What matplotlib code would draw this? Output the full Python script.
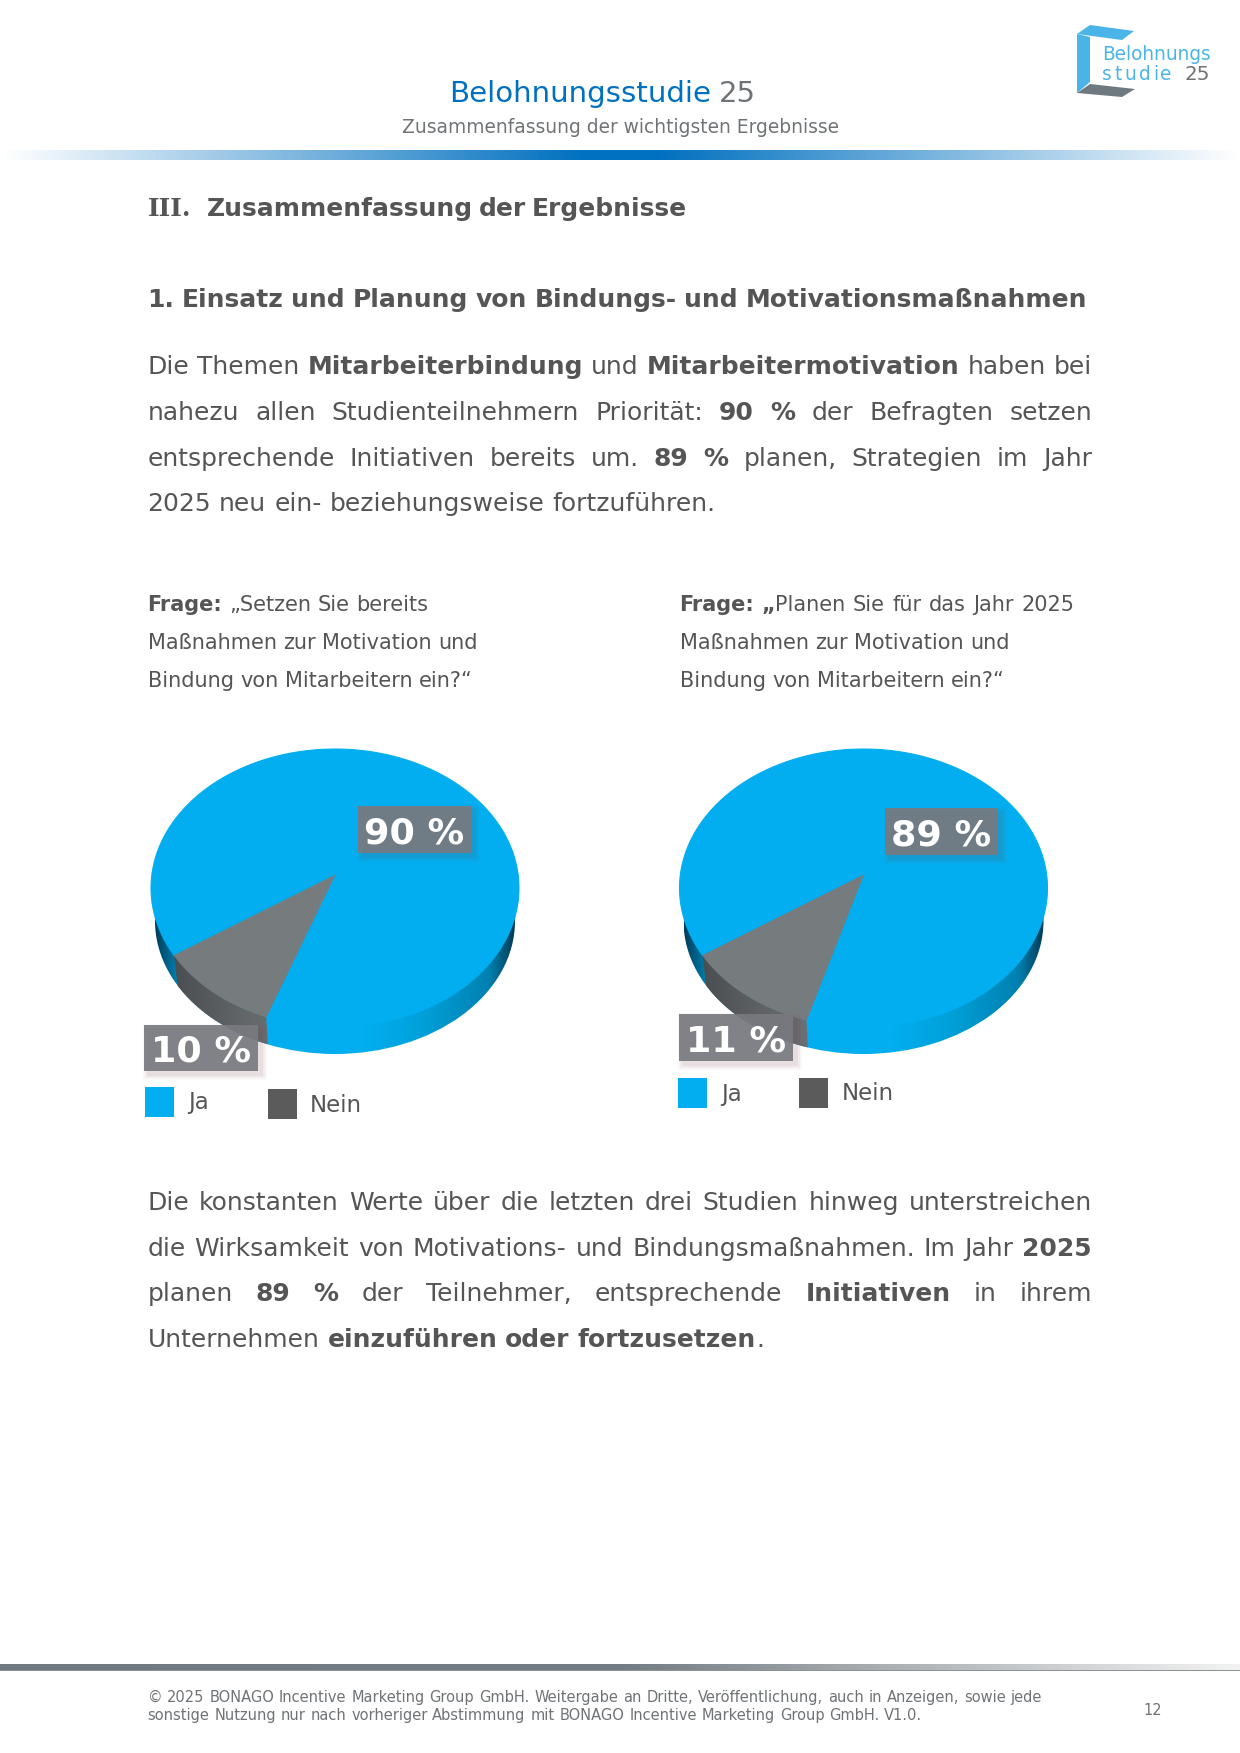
import numpy as np
import matplotlib
matplotlib.use('Agg')
import matplotlib.pyplot as plt
from matplotlib.colors import LinearSegmentedColormap
from matplotlib.patches import Rectangle, Polygon, Ellipse

# (DATA)
categories = ['Ja', 'Nein']
shares_left = [90, 10]
shares_right = [89, 11]

title_main = 'Belohnungsstudie'
title_year = '25'
subtitle = 'Zusammenfassung der wichtigsten Ergebnisse'
heading_1_num = 'III.'
heading_1 = '**Zusammenfassung der Ergebnisse**'
heading_2 = '**1. Einsatz und Planung von Bindungs- und Motivationsmaßnahmen**'

# ** marks a bold run
para_1 = [
    'Die Themen **Mitarbeiterbindung** und **Mitarbeitermotivation** haben bei',
    'nahezu allen Studienteilnehmern Priorität: **90 %** der Befragten setzen',
    'entsprechende Initiativen bereits um. **89 %** planen, Strategien im Jahr',
    '2025 neu ein- beziehungsweise fortzuführen.',
]
para_2 = [
    'Die konstanten Werte über die letzten drei Studien hinweg unterstreichen',
    'die Wirksamkeit von Motivations- und Bindungsmaßnahmen. Im Jahr **2025**',
    'planen **89 %** der Teilnehmer, entsprechende **Initiativen** in ihrem',
    'Unternehmen **einzuführen oder fortzusetzen**.',
]
question_left = [
    '**Frage:** „Setzen Sie bereits',
    'Maßnahmen zur Motivation und',
    'Bindung von Mitarbeitern ein?“',
]
question_right = [
    '**Frage: „**Planen Sie für das Jahr 2025',
    'Maßnahmen zur Motivation und',
    'Bindung von Mitarbeitern ein?“',
]
footer_lines = [
    '© 2025 BONAGO Incentive Marketing Group GmbH. Weitergabe an Dritte, Veröffentlichung, auch in Anzeigen, sowie jede',
    'sonstige Nutzung nur nach vorheriger Abstimmung mit BONAGO Incentive Marketing Group GmbH. V1.0.',
]
page_number = '12'

TEXT = '#555555'
GREY_TEXT = '#6f7376'
BLUE = '#02aeef'
SLICE_GREY = '#767b7e'
LEGEND_GREY = '#5b5b5b'
HEAD_BLUE = '#0070c0'
LOGO_BLUE = '#4ab4e8'
LOGO_GREY = '#6f7a80'

plt.rcParams['font.family'] = ['DejaVu Sans']

fig = plt.figure(figsize=(1240 / 150, 1753 / 150), dpi=150)
ax = fig.add_axes([0, 0, 1, 1])
renderer = fig.canvas.get_renderer()


def word_width(word, size, bold):
    t = ax.text(0, 0, word, fontsize=size, fontweight='bold' if bold else 'normal')
    w = t.get_window_extent(renderer).width
    t.remove()
    return w


def tokens(line):
    # split a line into (word, bold, glued to previous word)
    out = []
    prev_space = True
    for i, part in enumerate(line.split('**')):
        bold = i % 2 == 1
        for j, word in enumerate(part.split(' ')):
            if word == '':
                continue
            glue = j == 0 and len(out) > 0 and not prev_space
            out.append((word, bold, glue))
        prev_space = part.endswith(' ')
    return out


def draw_line(line, x0, y, size, color=TEXT, right=None):
    toks = tokens(line)
    widths = [word_width(w, size, b) for w, b, g in toks]
    n_gaps = sum(1 for w, b, g in toks[1:] if not g)
    bold_line = all(b for w, b, g in toks)
    gap = word_width('a a', size, bold_line) - word_width('aa', size, bold_line)
    if right is not None and n_gaps > 0:
        gap = (right - x0 - sum(widths)) / n_gaps
    x = x0
    for k, (w, b, g) in enumerate(toks):
        if k > 0 and not g:
            x += gap
        ax.text(x, y, w, fontsize=size, color=color, va='baseline', ha='left',
                fontweight='bold' if b else 'normal', zorder=10)
        x += widths[k]


def arc(cx, cy, rx, ry, a0, a1, n=120):
    t = np.radians(np.linspace(a0, a1, n))
    return np.column_stack([cx + rx * np.cos(t), cy - ry * np.sin(t)])


def label_box(x0, y0, x1, y1, text):
    # soft shadow, then the half transparent box
    for grow, alpha in [(5, 0.04), (3, 0.06), (1, 0.08)]:
        ax.add_patch(Rectangle((x0 + 4 - grow, y0 + 4 - grow), x1 - x0 + 2 * grow, y1 - y0 + 2 * grow,
                               color='#7a4a4a', alpha=alpha, lw=0, zorder=7))
    ax.add_patch(Rectangle((x0, y0), x1 - x0, y1 - y0, color='#787a80', alpha=0.92, lw=0, zorder=8))
    ax.text((x0 + x1) / 2, (y0 + y1) / 2 + 4, text, color='white', fontsize=17.5, fontweight='bold',
            ha='center', va='center', zorder=9)


blue_wall = LinearSegmentedColormap.from_list('bw', [
    (0.0, '#00405f'), (0.06, '#0080b0'), (0.3, '#02aeef'), (0.58, '#02aeef'),
    (0.75, '#009fd8'), (0.93, '#0080b0'), (1.0, '#003a55')])
grey_wall = LinearSegmentedColormap.from_list('gw', [
    (0.0, '#45484b'), (0.25, '#63676a'), (0.4, '#72767a'), (1.0, '#787c80')])


def draw_pie(cx, shares, start=209, stretch=1.085):
    # cy/rx/ry of the top face, the lower ellipse is smaller because of the perspective
    cy, rx, ry = 888, 184, 139
    cyb, rxb, ryb = 921, 180, 133
    apex = (cx, 875)
    a0 = start
    a1 = start + shares[1] * 3.6 * stretch
    grad = np.linspace(0, 1, 400).reshape(1, -1)
    extent = [cx - rxb, cx + rxb, cyb + ryb, cyb - ryb]

    im = ax.imshow(grad, cmap=blue_wall, extent=extent, aspect='auto', zorder=2)
    im.set_clip_path(Ellipse((cx, cyb), 2 * rxb, 2 * ryb, transform=ax.transData))

    side = np.vstack([arc(cx, cy, rx, ry, a0, a1), arc(cx, cyb, rxb, ryb, a1, a0)])
    im = ax.imshow(grad, cmap=grey_wall, extent=extent, aspect='auto', zorder=3)
    im.set_clip_path(Polygon(side, closed=True, transform=ax.transData))

    blue_arc = arc(cx, cy, rx, ry, a1, a0 + 360, 300)
    grey_arc = arc(cx, cy, rx, ry, a0, a1)
    ax.fill(*np.vstack([apex, blue_arc]).T, color=BLUE, lw=0.5, zorder=4)
    ax.fill(*np.vstack([apex, grey_arc]).T, color=SLICE_GREY, lw=0.3, zorder=5)


def draw_legend(xs, ys, text_xs):
    colors = [BLUE, LEGEND_GREY]
    for i, name in enumerate(categories):
        ax.add_patch(Rectangle((xs[i], ys[i]), 29, 29.5, color=colors[i], lw=0, zorder=6))
        ax.text(text_xs[i], ys[i] + 16, name, fontsize=11, color=TEXT, va='center', ha='left', zorder=6)


# header
ax.text(449, 101.5, title_main, fontsize=14.05, color=HEAD_BLUE, va='baseline', ha='left')
ax.text(719, 101.5, title_year, fontsize=14.05, color=GREY_TEXT, va='baseline', ha='left')
ax.text(620, 132.5, subtitle, fontsize=8.96, color=GREY_TEXT, va='baseline', ha='center')

head_cmap = LinearSegmentedColormap.from_list('hb', [(0, '#ffffff'), (0.47, HEAD_BLUE), (0.53, HEAD_BLUE), (1, '#ffffff')])
ax.imshow(np.linspace(0, 1, 600).reshape(1, -1), cmap=head_cmap, extent=[0, 1240, 160, 150], aspect='auto', zorder=1)

# logo
ax.add_patch(Polygon([(1077, 34), (1090, 25), (1134, 31), (1122, 40)], color=LOGO_BLUE, lw=0))
ax.add_patch(Polygon([(1077, 34), (1090, 37), (1090, 82), (1077, 93)], color=LOGO_BLUE, lw=0))
ax.add_patch(Polygon([(1077, 93), (1090, 84), (1135, 89), (1122, 97)], color=LOGO_GREY, lw=0))
ax.text(1102, 60, 'Belohnungs', fontsize=8.9, color=LOGO_BLUE, va='baseline', ha='left')
x_logo = 1102
for ch in 'studie':
    ax.text(x_logo, 80, ch, fontsize=8.9, color=LOGO_BLUE, va='baseline', ha='left')
    x_logo += word_width(ch, 8.9, False) + 2.6
ax.text(1184, 80, title_year, fontsize=9.6, color=GREY_TEXT, va='baseline', ha='left')

# headings and text, the numeral has slab serifs in the original font
ax.text(147.5, 216, heading_1_num, fontsize=12, color=TEXT, fontweight='bold', family='DejaVu Serif',
        va='baseline', ha='left', zorder=10)
draw_line(heading_1, 207, 216, 12, right=686.5)
draw_line(heading_2, 147.5, 307, 12, right=1087)

for line, y, just in zip(para_1, [374, 420, 465.5, 511], [True, True, True, False]):
    draw_line(line, 147.5, y, 12, right=1092 if just else None)
for line, y, just in zip(para_2, [1210, 1256, 1301, 1347], [True, True, True, False]):
    draw_line(line, 147.5, y, 12, right=1092 if just else None)

for line, y in zip(question_left, [611, 649, 687]):
    draw_line(line, 147.5, y, 10)
for line, y, end in zip(question_right, [611, 649, 687], [1074, None, None]):
    draw_line(line, 679.5, y, 10, right=end)

# pies
draw_pie(335, shares_left)
draw_pie(863.5, shares_right)

label_box(358, 806, 471, 853, f'{shares_left[0]} %')
label_box(144, 1025, 258, 1071, f'{shares_left[1]} %')
label_box(885, 808, 998, 855, f'{shares_right[0]} %')
label_box(679, 1014, 793, 1061, f'{shares_right[1]} %')

draw_legend([145, 268], [1087, 1089], [188, 310])
draw_legend([678, 799], [1078, 1078], [721, 842])

# footer
foot_cmap = LinearSegmentedColormap.from_list('fb', [(0, '#6f7a80'), (0.5, '#737c82'), (1, '#f2f2f2')])
ax.imshow(np.linspace(0, 1, 600).reshape(1, -1), cmap=foot_cmap, extent=[0, 1240, 1670, 1664], aspect='auto', zorder=1)
ax.add_patch(Rectangle((0, 1669.5), 1240, 1, color='#8b9296', lw=0, zorder=2))
draw_line(footer_lines[0], 147.5, 1702, 7.05, color=GREY_TEXT, right=1042)
draw_line(footer_lines[1], 147.5, 1720, 7.05, color=GREY_TEXT, right=922.5)
ax.text(1153, 1715, page_number, fontsize=7.05, color=GREY_TEXT, va='baseline', ha='center')

ax.set_xlim(0, 1240)
ax.set_ylim(1753, 0)
ax.set_aspect('auto')
ax.axis('off')

fig.savefig('out.png', dpi=150, facecolor='white')
